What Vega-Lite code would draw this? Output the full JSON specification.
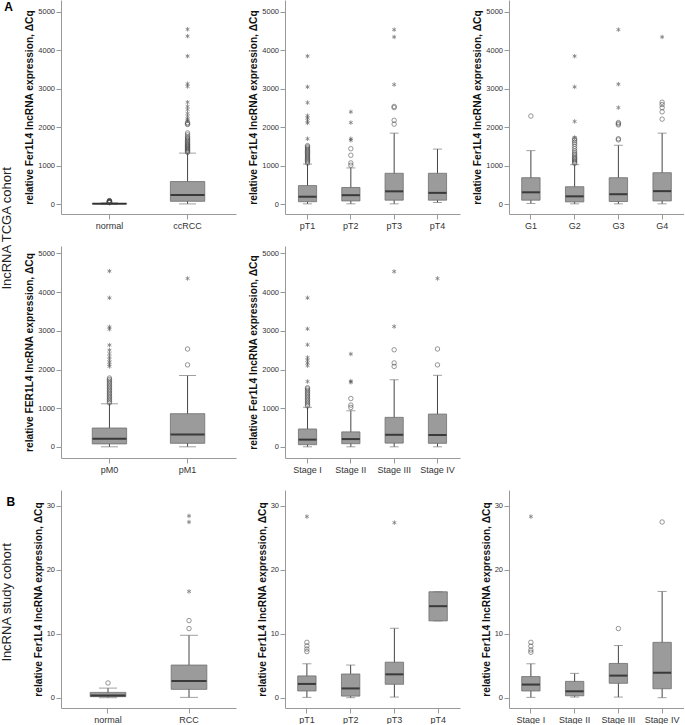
{
"$schema": "https://vega.github.io/schema/vega-lite/v6.json",
"padding": 0,
"background": "white",
"title": {"text": "lncRNA study cohort", "orient": "left", "anchor": "start", "offset": -13, "dx": 63, "fontSize": 13, "fontWeight": "normal", "color": "#222", "font": "Liberation Sans"},
"columns": 3,
"bounds": "flush",
"align": "each",
"spacing": {"row": 32, "column": 49},
"datasets": {
"boxes": [
{"p":"p1","g":"normal","lo":0,"q1":2,"med":8,"q3":16,"hi":30},
{"p":"p1","g":"ccRCC","lo":3,"q1":70,"med":235,"q3":585,"hi":1325},
{"p":"p2","g":"pT1","lo":5,"q1":60,"med":190,"q3":480,"hi":1040},
{"p":"p2","g":"pT2","lo":5,"q1":80,"med":230,"q3":430,"hi":940},
{"p":"p2","g":"pT3","lo":5,"q1":100,"med":330,"q3":800,"hi":1845},
{"p":"p2","g":"pT4","lo":40,"q1":100,"med":290,"q3":800,"hi":1430},
{"p":"p3","g":"G1","lo":15,"q1":100,"med":305,"q3":685,"hi":1390},
{"p":"p3","g":"G2","lo":5,"q1":55,"med":200,"q3":450,"hi":1025},
{"p":"p3","g":"G3","lo":5,"q1":65,"med":255,"q3":685,"hi":1530},
{"p":"p3","g":"G4","lo":5,"q1":80,"med":335,"q3":815,"hi":1845},
{"p":"p4","g":"pM0","lo":5,"q1":80,"med":215,"q3":490,"hi":1115},
{"p":"p4","g":"pM1","lo":5,"q1":95,"med":320,"q3":860,"hi":1845},
{"p":"p5","g":"Stage I","lo":5,"q1":60,"med":190,"q3":465,"hi":1025},
{"p":"p5","g":"Stage II","lo":5,"q1":85,"med":205,"q3":390,"hi":935},
{"p":"p5","g":"Stage III","lo":5,"q1":100,"med":315,"q3":765,"hi":1735},
{"p":"p5","g":"Stage IV","lo":5,"q1":95,"med":310,"q3":850,"hi":1850},
{"p":"p6","g":"normal","lo":0,"q1":0.16,"med":0.36,"q3":0.83,"hi":1.5},
{"p":"p6","g":"RCC","lo":0.05,"q1":1.3,"med":2.6,"q3":5.1,"hi":9.75},
{"p":"p7","g":"pT1","lo":0.05,"q1":1.05,"med":2.15,"q3":3.4,"hi":5.3},
{"p":"p7","g":"pT2","lo":0,"q1":0.25,"med":1.45,"q3":3.7,"hi":5.1},
{"p":"p7","g":"pT3","lo":0.1,"q1":2.1,"med":3.65,"q3":5.55,"hi":10.85},
{"p":"p7","g":"pT4","lo":12.0,"q1":12.0,"med":14.3,"q3":16.55,"hi":16.55},
{"p":"p8","g":"Stage I","lo":0.05,"q1":1.05,"med":2.05,"q3":3.3,"hi":5.3},
{"p":"p8","g":"Stage II","lo":0.1,"q1":0.3,"med":1.0,"q3":2.55,"hi":3.8},
{"p":"p8","g":"Stage III","lo":0.1,"q1":2.25,"med":3.45,"q3":5.35,"hi":8.15},
{"p":"p8","g":"Stage IV","lo":0,"q1":1.4,"med":3.9,"q3":8.65,"hi":16.6}
],
"outliers": [
{"p":"p1","g":"normal","v":35,"k":"o"},{"p":"p1","g":"normal","v":40,"k":"o"},{"p":"p1","g":"normal","v":45,"k":"o"},{"p":"p1","g":"normal","v":50,"k":"o"},{"p":"p1","g":"normal","v":55,"k":"o"},{"p":"p1","g":"normal","v":60,"k":"o"},{"p":"p1","g":"normal","v":65,"k":"o"},{"p":"p1","g":"normal","v":70,"k":"o"},{"p":"p1","g":"normal","v":75,"k":"o"},{"p":"p1","g":"normal","v":80,"k":"o"},{"p":"p1","g":"normal","v":90,"k":"o"},
{"p":"p1","g":"ccRCC","v":1345,"k":"o"},{"p":"p1","g":"ccRCC","v":1370,"k":"o"},{"p":"p1","g":"ccRCC","v":1395,"k":"o"},{"p":"p1","g":"ccRCC","v":1420,"k":"o"},{"p":"p1","g":"ccRCC","v":1445,"k":"o"},{"p":"p1","g":"ccRCC","v":1470,"k":"o"},{"p":"p1","g":"ccRCC","v":1495,"k":"o"},{"p":"p1","g":"ccRCC","v":1520,"k":"o"},{"p":"p1","g":"ccRCC","v":1545,"k":"o"},{"p":"p1","g":"ccRCC","v":1570,"k":"o"},{"p":"p1","g":"ccRCC","v":1600,"k":"o"},{"p":"p1","g":"ccRCC","v":1630,"k":"o"},{"p":"p1","g":"ccRCC","v":1660,"k":"o"},{"p":"p1","g":"ccRCC","v":1690,"k":"o"},{"p":"p1","g":"ccRCC","v":1720,"k":"o"},{"p":"p1","g":"ccRCC","v":1750,"k":"o"},{"p":"p1","g":"ccRCC","v":1800,"k":"o"},{"p":"p1","g":"ccRCC","v":1850,"k":"o"},{"p":"p1","g":"ccRCC","v":2070,"k":"o"},{"p":"p1","g":"ccRCC","v":2090,"k":"o"},{"p":"p1","g":"ccRCC","v":2120,"k":"o"},
{"p":"p1","g":"ccRCC","v":2170,"k":"*"},{"p":"p1","g":"ccRCC","v":2210,"k":"*"},{"p":"p1","g":"ccRCC","v":2280,"k":"*"},{"p":"p1","g":"ccRCC","v":2360,"k":"*"},{"p":"p1","g":"ccRCC","v":2460,"k":"*"},{"p":"p1","g":"ccRCC","v":2540,"k":"*"},{"p":"p1","g":"ccRCC","v":2650,"k":"*"},{"p":"p1","g":"ccRCC","v":3060,"k":"*"},{"p":"p1","g":"ccRCC","v":3130,"k":"*"},{"p":"p1","g":"ccRCC","v":3850,"k":"*"},{"p":"p1","g":"ccRCC","v":4370,"k":"*"},{"p":"p1","g":"ccRCC","v":4550,"k":"*"},
{"p":"p2","g":"pT1","v":1065,"k":"o"},{"p":"p2","g":"pT1","v":1100,"k":"o"},{"p":"p2","g":"pT1","v":1130,"k":"o"},{"p":"p2","g":"pT1","v":1160,"k":"o"},{"p":"p2","g":"pT1","v":1190,"k":"o"},{"p":"p2","g":"pT1","v":1220,"k":"o"},{"p":"p2","g":"pT1","v":1250,"k":"o"},{"p":"p2","g":"pT1","v":1280,"k":"o"},{"p":"p2","g":"pT1","v":1310,"k":"o"},{"p":"p2","g":"pT1","v":1340,"k":"o"},{"p":"p2","g":"pT1","v":1370,"k":"o"},{"p":"p2","g":"pT1","v":1400,"k":"o"},{"p":"p2","g":"pT1","v":1430,"k":"o"},{"p":"p2","g":"pT1","v":1460,"k":"o"},{"p":"p2","g":"pT1","v":1490,"k":"o"},{"p":"p2","g":"pT1","v":1520,"k":"o"},
{"p":"p2","g":"pT1","v":1700,"k":"*"},{"p":"p2","g":"pT1","v":2110,"k":"*"},{"p":"p2","g":"pT1","v":2170,"k":"*"},{"p":"p2","g":"pT1","v":2240,"k":"*"},{"p":"p2","g":"pT1","v":2300,"k":"*"},{"p":"p2","g":"pT1","v":2640,"k":"*"},{"p":"p2","g":"pT1","v":3050,"k":"*"},{"p":"p2","g":"pT1","v":3850,"k":"*"},
{"p":"p2","g":"pT2","v":1010,"k":"o"},{"p":"p2","g":"pT2","v":1070,"k":"o"},{"p":"p2","g":"pT2","v":1270,"k":"o"},{"p":"p2","g":"pT2","v":1440,"k":"o"},{"p":"p2","g":"pT2","v":1660,"k":"*"},{"p":"p2","g":"pT2","v":1700,"k":"*"},{"p":"p2","g":"pT2","v":2120,"k":"*"},{"p":"p2","g":"pT2","v":2400,"k":"*"},
{"p":"p2","g":"pT3","v":2080,"k":"o"},{"p":"p2","g":"pT3","v":2180,"k":"o"},{"p":"p2","g":"pT3","v":2510,"k":"o"},{"p":"p2","g":"pT3","v":2540,"k":"o"},{"p":"p2","g":"pT3","v":3110,"k":"*"},{"p":"p2","g":"pT3","v":4350,"k":"*"},{"p":"p2","g":"pT3","v":4540,"k":"*"},
{"p":"p3","g":"G1","v":2290,"k":"o"},
{"p":"p3","g":"G2","v":1060,"k":"o"},{"p":"p3","g":"G2","v":1090,"k":"o"},{"p":"p3","g":"G2","v":1120,"k":"o"},{"p":"p3","g":"G2","v":1150,"k":"o"},{"p":"p3","g":"G2","v":1180,"k":"o"},{"p":"p3","g":"G2","v":1210,"k":"o"},{"p":"p3","g":"G2","v":1250,"k":"o"},{"p":"p3","g":"G2","v":1290,"k":"o"},{"p":"p3","g":"G2","v":1330,"k":"o"},{"p":"p3","g":"G2","v":1380,"k":"o"},{"p":"p3","g":"G2","v":1440,"k":"o"},{"p":"p3","g":"G2","v":1500,"k":"o"},{"p":"p3","g":"G2","v":1560,"k":"o"},{"p":"p3","g":"G2","v":1610,"k":"o"},{"p":"p3","g":"G2","v":1660,"k":"o"},{"p":"p3","g":"G2","v":1700,"k":"o"},
{"p":"p3","g":"G2","v":1730,"k":"*"},{"p":"p3","g":"G2","v":2150,"k":"*"},{"p":"p3","g":"G2","v":3050,"k":"*"},{"p":"p3","g":"G2","v":3850,"k":"*"},
{"p":"p3","g":"G3","v":1670,"k":"o"},{"p":"p3","g":"G3","v":1700,"k":"o"},{"p":"p3","g":"G3","v":2060,"k":"o"},{"p":"p3","g":"G3","v":2090,"k":"o"},{"p":"p3","g":"G3","v":2120,"k":"o"},{"p":"p3","g":"G3","v":2510,"k":"*"},{"p":"p3","g":"G3","v":3120,"k":"*"},{"p":"p3","g":"G3","v":4540,"k":"*"},
{"p":"p3","g":"G4","v":2210,"k":"o"},{"p":"p3","g":"G4","v":2400,"k":"o"},{"p":"p3","g":"G4","v":2510,"k":"o"},{"p":"p3","g":"G4","v":2590,"k":"o"},{"p":"p3","g":"G4","v":2650,"k":"o"},{"p":"p3","g":"G4","v":4350,"k":"*"},
{"p":"p4","g":"pM0","v":1140,"k":"o"},{"p":"p4","g":"pM0","v":1180,"k":"o"},{"p":"p4","g":"pM0","v":1220,"k":"o"},{"p":"p4","g":"pM0","v":1260,"k":"o"},{"p":"p4","g":"pM0","v":1300,"k":"o"},{"p":"p4","g":"pM0","v":1340,"k":"o"},{"p":"p4","g":"pM0","v":1380,"k":"o"},{"p":"p4","g":"pM0","v":1420,"k":"o"},{"p":"p4","g":"pM0","v":1460,"k":"o"},{"p":"p4","g":"pM0","v":1500,"k":"o"},{"p":"p4","g":"pM0","v":1540,"k":"o"},{"p":"p4","g":"pM0","v":1580,"k":"o"},{"p":"p4","g":"pM0","v":1620,"k":"o"},{"p":"p4","g":"pM0","v":1660,"k":"o"},{"p":"p4","g":"pM0","v":1700,"k":"o"},{"p":"p4","g":"pM0","v":1740,"k":"o"},{"p":"p4","g":"pM0","v":1780,"k":"o"},
{"p":"p4","g":"pM0","v":2080,"k":"*"},{"p":"p4","g":"pM0","v":2130,"k":"*"},{"p":"p4","g":"pM0","v":2190,"k":"*"},{"p":"p4","g":"pM0","v":2260,"k":"*"},{"p":"p4","g":"pM0","v":2330,"k":"*"},{"p":"p4","g":"pM0","v":2410,"k":"*"},{"p":"p4","g":"pM0","v":2500,"k":"*"},{"p":"p4","g":"pM0","v":2630,"k":"*"},{"p":"p4","g":"pM0","v":3040,"k":"*"},{"p":"p4","g":"pM0","v":3100,"k":"*"},{"p":"p4","g":"pM0","v":3850,"k":"*"},{"p":"p4","g":"pM0","v":4540,"k":"*"},
{"p":"p4","g":"pM1","v":2120,"k":"o"},{"p":"p4","g":"pM1","v":2530,"k":"o"},{"p":"p4","g":"pM1","v":4350,"k":"*"},
{"p":"p5","g":"Stage I","v":1060,"k":"o"},{"p":"p5","g":"Stage I","v":1100,"k":"o"},{"p":"p5","g":"Stage I","v":1140,"k":"o"},{"p":"p5","g":"Stage I","v":1180,"k":"o"},{"p":"p5","g":"Stage I","v":1220,"k":"o"},{"p":"p5","g":"Stage I","v":1260,"k":"o"},{"p":"p5","g":"Stage I","v":1300,"k":"o"},{"p":"p5","g":"Stage I","v":1340,"k":"o"},{"p":"p5","g":"Stage I","v":1380,"k":"o"},{"p":"p5","g":"Stage I","v":1420,"k":"o"},{"p":"p5","g":"Stage I","v":1460,"k":"o"},{"p":"p5","g":"Stage I","v":1500,"k":"o"},{"p":"p5","g":"Stage I","v":1530,"k":"o"},
{"p":"p5","g":"Stage I","v":1690,"k":"*"},{"p":"p5","g":"Stage I","v":2100,"k":"*"},{"p":"p5","g":"Stage I","v":2170,"k":"*"},{"p":"p5","g":"Stage I","v":2240,"k":"*"},{"p":"p5","g":"Stage I","v":2310,"k":"*"},{"p":"p5","g":"Stage I","v":2640,"k":"*"},{"p":"p5","g":"Stage I","v":3050,"k":"*"},{"p":"p5","g":"Stage I","v":3850,"k":"*"},
{"p":"p5","g":"Stage II","v":1020,"k":"o"},{"p":"p5","g":"Stage II","v":1080,"k":"o"},{"p":"p5","g":"Stage II","v":1250,"k":"o"},{"p":"p5","g":"Stage II","v":1670,"k":"*"},{"p":"p5","g":"Stage II","v":1700,"k":"*"},{"p":"p5","g":"Stage II","v":2400,"k":"*"},
{"p":"p5","g":"Stage III","v":2080,"k":"o"},{"p":"p5","g":"Stage III","v":2170,"k":"o"},{"p":"p5","g":"Stage III","v":2510,"k":"o"},{"p":"p5","g":"Stage III","v":3110,"k":"*"},{"p":"p5","g":"Stage III","v":4530,"k":"*"},
{"p":"p5","g":"Stage IV","v":2120,"k":"o"},{"p":"p5","g":"Stage IV","v":2530,"k":"o"},{"p":"p5","g":"Stage IV","v":4350,"k":"*"},
{"p":"p6","g":"normal","v":2.3,"k":"o"},
{"p":"p6","g":"RCC","v":10.8,"k":"o"},{"p":"p6","g":"RCC","v":12.05,"k":"o"},{"p":"p6","g":"RCC","v":16.6,"k":"*"},{"p":"p6","g":"RCC","v":27.45,"k":"*"},{"p":"p6","g":"RCC","v":28.4,"k":"*"},
{"p":"p7","g":"pT1","v":7.2,"k":"o"},{"p":"p7","g":"pT1","v":7.6,"k":"o"},{"p":"p7","g":"pT1","v":8.1,"k":"o"},{"p":"p7","g":"pT1","v":8.65,"k":"o"},{"p":"p7","g":"pT1","v":28.3,"k":"*"},
{"p":"p7","g":"pT3","v":27.35,"k":"*"},
{"p":"p8","g":"Stage I","v":7.1,"k":"o"},{"p":"p8","g":"Stage I","v":7.45,"k":"o"},{"p":"p8","g":"Stage I","v":8.05,"k":"o"},{"p":"p8","g":"Stage I","v":8.65,"k":"o"},{"p":"p8","g":"Stage I","v":28.3,"k":"*"},
{"p":"p8","g":"Stage III","v":10.8,"k":"o"},
{"p":"p8","g":"Stage IV","v":27.45,"k":"o"}
]
},
"concat": [
{
"width": 175, "height": 214,
"title": {"text": "A", "orient": "left", "anchor": "end", "angle": 0, "align": "left", "baseline": "top", "offset": 12, "dy": 2, "fontSize": 12, "fontWeight": "bold", "color": "#000"},
"encoding": {"x": {"field": "g", "type": "nominal", "sort": ["normal", "ccRCC"], "scale": {"type": "band", "paddingInner": 0.56, "paddingOuter": 0.4}, "axis": {"title": null}}},
"layer": [
{"data": {"name": "boxes"}, "transform": [{"filter": "datum.p === 'p1'"}], "mark": {"type": "rule", "color": "#444"}, "encoding": {"y": {"field": "lo", "type": "quantitative", "scale": {"domain": [-260, 5312], "nice": false, "zero": false}, "axis": {"title": "relative Fer1L4 lncRNA expression, ΔCq", "values": [0, 1000, 2000, 3000, 4000, 5000], "format": "d"}}, "y2": {"field": "hi"}}},
{"data": {"name": "boxes"}, "transform": [{"filter": "datum.p === 'p1'"}], "mark": {"type": "bar", "fill": "#9b9b9b", "stroke": "#6e6e6e", "strokeWidth": 0.8}, "encoding": {"y": {"field": "q1", "type": "quantitative", "scale": {"domain": [-260, 5312], "nice": false, "zero": false}}, "y2": {"field": "q3"}}},
{"data": {"name": "boxes"}, "transform": [{"filter": "datum.p === 'p1'"}], "mark": {"type": "tick", "color": "#777", "thickness": 1, "size": 17}, "encoding": {"y": {"field": "lo", "type": "quantitative", "scale": {"domain": [-260, 5312], "nice": false, "zero": false}}}},
{"data": {"name": "boxes"}, "transform": [{"filter": "datum.p === 'p1'"}], "mark": {"type": "tick", "color": "#777", "thickness": 1, "size": 17}, "encoding": {"y": {"field": "hi", "type": "quantitative", "scale": {"domain": [-260, 5312], "nice": false, "zero": false}}}},
{"data": {"name": "boxes"}, "transform": [{"filter": "datum.p === 'p1'"}], "mark": {"type": "tick", "color": "#111", "thickness": 2, "size": 34}, "encoding": {"y": {"field": "med", "type": "quantitative", "scale": {"domain": [-260, 5312], "nice": false, "zero": false}}}},
{"data": {"name": "outliers"}, "transform": [{"filter": "datum.p === 'p1'"}], "mark": {"type": "point", "filled": false, "size": 20, "strokeWidth": 0.8, "color": "#444"}, "encoding": {"y": {"field": "v", "type": "quantitative", "scale": {"domain": [-260, 5312], "nice": false, "zero": false}}, "shape": {"field": "k", "type": "nominal", "scale": {"domain": ["o", "*"], "range": ["circle", "M0,-1L0,1M-0.87,-0.5L0.87,0.5M-0.87,0.5L0.87,-0.5"]}, "legend": null}}}
]
},
{
"width": 175, "height": 214,
"encoding": {"x": {"field": "g", "type": "nominal", "sort": ["pT1", "pT2", "pT3", "pT4"], "scale": {"type": "band", "paddingInner": 0.58, "paddingOuter": 0.31}, "axis": {"title": null}}},
"layer": [
{"data": {"name": "boxes"}, "transform": [{"filter": "datum.p === 'p2'"}], "mark": {"type": "rule", "color": "#444"}, "encoding": {"y": {"field": "lo", "type": "quantitative", "scale": {"domain": [-260, 5312], "nice": false, "zero": false}, "axis": {"title": "relative Fer1L4 lncRNA expression, ΔCq", "values": [0, 1000, 2000, 3000, 4000, 5000], "format": "d"}}, "y2": {"field": "hi"}}},
{"data": {"name": "boxes"}, "transform": [{"filter": "datum.p === 'p2'"}], "mark": {"type": "bar", "fill": "#9b9b9b", "stroke": "#6e6e6e", "strokeWidth": 0.8}, "encoding": {"y": {"field": "q1", "type": "quantitative", "scale": {"domain": [-260, 5312], "nice": false, "zero": false}}, "y2": {"field": "q3"}}},
{"data": {"name": "boxes"}, "transform": [{"filter": "datum.p === 'p2'"}], "mark": {"type": "tick", "color": "#777", "thickness": 1, "size": 9}, "encoding": {"y": {"field": "lo", "type": "quantitative", "scale": {"domain": [-260, 5312], "nice": false, "zero": false}}}},
{"data": {"name": "boxes"}, "transform": [{"filter": "datum.p === 'p2'"}], "mark": {"type": "tick", "color": "#777", "thickness": 1, "size": 9}, "encoding": {"y": {"field": "hi", "type": "quantitative", "scale": {"domain": [-260, 5312], "nice": false, "zero": false}}}},
{"data": {"name": "boxes"}, "transform": [{"filter": "datum.p === 'p2'"}], "mark": {"type": "tick", "color": "#111", "thickness": 2, "size": 18}, "encoding": {"y": {"field": "med", "type": "quantitative", "scale": {"domain": [-260, 5312], "nice": false, "zero": false}}}},
{"data": {"name": "outliers"}, "transform": [{"filter": "datum.p === 'p2'"}], "mark": {"type": "point", "filled": false, "size": 20, "strokeWidth": 0.8, "color": "#444"}, "encoding": {"y": {"field": "v", "type": "quantitative", "scale": {"domain": [-260, 5312], "nice": false, "zero": false}}, "shape": {"field": "k", "type": "nominal", "scale": {"domain": ["o", "*"], "range": ["circle", "M0,-1L0,1M-0.87,-0.5L0.87,0.5M-0.87,0.5L0.87,-0.5"]}, "legend": null}}}
]
},
{
"width": 175, "height": 214,
"encoding": {"x": {"field": "g", "type": "nominal", "sort": ["G1", "G2", "G3", "G4"], "scale": {"type": "band", "paddingInner": 0.58, "paddingOuter": 0.29}, "axis": {"title": null}}},
"layer": [
{"data": {"name": "boxes"}, "transform": [{"filter": "datum.p === 'p3'"}], "mark": {"type": "rule", "color": "#444"}, "encoding": {"y": {"field": "lo", "type": "quantitative", "scale": {"domain": [-260, 5312], "nice": false, "zero": false}, "axis": {"title": "relative Fer1L4 lncRNA expression, ΔCq", "values": [0, 1000, 2000, 3000, 4000, 5000], "format": "d"}}, "y2": {"field": "hi"}}},
{"data": {"name": "boxes"}, "transform": [{"filter": "datum.p === 'p3'"}], "mark": {"type": "bar", "fill": "#9b9b9b", "stroke": "#6e6e6e", "strokeWidth": 0.8}, "encoding": {"y": {"field": "q1", "type": "quantitative", "scale": {"domain": [-260, 5312], "nice": false, "zero": false}}, "y2": {"field": "q3"}}},
{"data": {"name": "boxes"}, "transform": [{"filter": "datum.p === 'p3'"}], "mark": {"type": "tick", "color": "#777", "thickness": 1, "size": 9}, "encoding": {"y": {"field": "lo", "type": "quantitative", "scale": {"domain": [-260, 5312], "nice": false, "zero": false}}}},
{"data": {"name": "boxes"}, "transform": [{"filter": "datum.p === 'p3'"}], "mark": {"type": "tick", "color": "#777", "thickness": 1, "size": 9}, "encoding": {"y": {"field": "hi", "type": "quantitative", "scale": {"domain": [-260, 5312], "nice": false, "zero": false}}}},
{"data": {"name": "boxes"}, "transform": [{"filter": "datum.p === 'p3'"}], "mark": {"type": "tick", "color": "#111", "thickness": 2, "size": 18}, "encoding": {"y": {"field": "med", "type": "quantitative", "scale": {"domain": [-260, 5312], "nice": false, "zero": false}}}},
{"data": {"name": "outliers"}, "transform": [{"filter": "datum.p === 'p3'"}], "mark": {"type": "point", "filled": false, "size": 20, "strokeWidth": 0.8, "color": "#444"}, "encoding": {"y": {"field": "v", "type": "quantitative", "scale": {"domain": [-260, 5312], "nice": false, "zero": false}}, "shape": {"field": "k", "type": "nominal", "scale": {"domain": ["o", "*"], "range": ["circle", "M0,-1L0,1M-0.87,-0.5L0.87,0.5M-0.87,0.5L0.87,-0.5"]}, "legend": null}}}
]
},
{
"width": 175, "height": 212,
"title": {"text": "lncRNA TCGA cohort", "orient": "left", "anchor": "middle", "frame": "group", "offset": 11, "dx": 124, "fontSize": 13, "fontWeight": "normal", "color": "#222"},
"encoding": {"x": {"field": "g", "type": "nominal", "sort": ["pM0", "pM1"], "scale": {"type": "band", "paddingInner": 0.56, "paddingOuter": 0.4}, "axis": {"title": null}}},
"layer": [
{"data": {"name": "boxes"}, "transform": [{"filter": "datum.p === 'p4'"}], "mark": {"type": "rule", "color": "#444"}, "encoding": {"y": {"field": "lo", "type": "quantitative", "scale": {"domain": [-284, 5188], "nice": false, "zero": false}, "axis": {"title": "relative FER1L4 lncRNA expression, ΔCq", "values": [0, 1000, 2000, 3000, 4000, 5000], "format": "d"}}, "y2": {"field": "hi"}}},
{"data": {"name": "boxes"}, "transform": [{"filter": "datum.p === 'p4'"}], "mark": {"type": "bar", "fill": "#9b9b9b", "stroke": "#6e6e6e", "strokeWidth": 0.8}, "encoding": {"y": {"field": "q1", "type": "quantitative", "scale": {"domain": [-284, 5188], "nice": false, "zero": false}}, "y2": {"field": "q3"}}},
{"data": {"name": "boxes"}, "transform": [{"filter": "datum.p === 'p4'"}], "mark": {"type": "tick", "color": "#777", "thickness": 1, "size": 17}, "encoding": {"y": {"field": "lo", "type": "quantitative", "scale": {"domain": [-284, 5188], "nice": false, "zero": false}}}},
{"data": {"name": "boxes"}, "transform": [{"filter": "datum.p === 'p4'"}], "mark": {"type": "tick", "color": "#777", "thickness": 1, "size": 17}, "encoding": {"y": {"field": "hi", "type": "quantitative", "scale": {"domain": [-284, 5188], "nice": false, "zero": false}}}},
{"data": {"name": "boxes"}, "transform": [{"filter": "datum.p === 'p4'"}], "mark": {"type": "tick", "color": "#111", "thickness": 2, "size": 34}, "encoding": {"y": {"field": "med", "type": "quantitative", "scale": {"domain": [-284, 5188], "nice": false, "zero": false}}}},
{"data": {"name": "outliers"}, "transform": [{"filter": "datum.p === 'p4'"}], "mark": {"type": "point", "filled": false, "size": 20, "strokeWidth": 0.8, "color": "#444"}, "encoding": {"y": {"field": "v", "type": "quantitative", "scale": {"domain": [-284, 5188], "nice": false, "zero": false}}, "shape": {"field": "k", "type": "nominal", "scale": {"domain": ["o", "*"], "range": ["circle", "M0,-1L0,1M-0.87,-0.5L0.87,0.5M-0.87,0.5L0.87,-0.5"]}, "legend": null}}}
]
},
{
"width": 175, "height": 212,
"encoding": {"x": {"field": "g", "type": "nominal", "sort": ["Stage I", "Stage II", "Stage III", "Stage IV"], "scale": {"type": "band", "paddingInner": 0.58, "paddingOuter": 0.31}, "axis": {"title": null}}},
"layer": [
{"data": {"name": "boxes"}, "transform": [{"filter": "datum.p === 'p5'"}], "mark": {"type": "rule", "color": "#444"}, "encoding": {"y": {"field": "lo", "type": "quantitative", "scale": {"domain": [-284, 5188], "nice": false, "zero": false}, "axis": {"title": "relative Fer1L4 lncRNA expression, ΔCq", "values": [0, 1000, 2000, 3000, 4000, 5000], "format": "d"}}, "y2": {"field": "hi"}}},
{"data": {"name": "boxes"}, "transform": [{"filter": "datum.p === 'p5'"}], "mark": {"type": "bar", "fill": "#9b9b9b", "stroke": "#6e6e6e", "strokeWidth": 0.8}, "encoding": {"y": {"field": "q1", "type": "quantitative", "scale": {"domain": [-284, 5188], "nice": false, "zero": false}}, "y2": {"field": "q3"}}},
{"data": {"name": "boxes"}, "transform": [{"filter": "datum.p === 'p5'"}], "mark": {"type": "tick", "color": "#777", "thickness": 1, "size": 9}, "encoding": {"y": {"field": "lo", "type": "quantitative", "scale": {"domain": [-284, 5188], "nice": false, "zero": false}}}},
{"data": {"name": "boxes"}, "transform": [{"filter": "datum.p === 'p5'"}], "mark": {"type": "tick", "color": "#777", "thickness": 1, "size": 9}, "encoding": {"y": {"field": "hi", "type": "quantitative", "scale": {"domain": [-284, 5188], "nice": false, "zero": false}}}},
{"data": {"name": "boxes"}, "transform": [{"filter": "datum.p === 'p5'"}], "mark": {"type": "tick", "color": "#111", "thickness": 2, "size": 18}, "encoding": {"y": {"field": "med", "type": "quantitative", "scale": {"domain": [-284, 5188], "nice": false, "zero": false}}}},
{"data": {"name": "outliers"}, "transform": [{"filter": "datum.p === 'p5'"}], "mark": {"type": "point", "filled": false, "size": 20, "strokeWidth": 0.8, "color": "#444"}, "encoding": {"y": {"field": "v", "type": "quantitative", "scale": {"domain": [-284, 5188], "nice": false, "zero": false}}, "shape": {"field": "k", "type": "nominal", "scale": {"domain": ["o", "*"], "range": ["circle", "M0,-1L0,1M-0.87,-0.5L0.87,0.5M-0.87,0.5L0.87,-0.5"]}, "legend": null}}}
]
},
{
"width": 175, "height": 212,
"data": {"values": [{"a": 1}]},
"mark": {"type": "point", "opacity": 0},
"encoding": {}
},
{
"width": 175, "height": 218,
"title": {"text": "B", "orient": "left", "anchor": "end", "angle": 0, "align": "left", "baseline": "top", "offset": 18, "dy": 7, "fontSize": 12, "fontWeight": "bold", "color": "#000"},
"encoding": {"x": {"field": "g", "type": "nominal", "sort": ["normal", "RCC"], "scale": {"type": "band", "paddingInner": 0.56, "paddingOuter": 0.36}, "axis": {"title": null}}},
"layer": [
{"data": {"name": "boxes"}, "transform": [{"filter": "datum.p === 'p6'"}], "mark": {"type": "rule", "color": "#444"}, "encoding": {"y": {"field": "lo", "type": "quantitative", "scale": {"domain": [-1.61, 32.45], "nice": false, "zero": false}, "axis": {"title": "relative Fer1L4 lncRNA expression, ΔCq", "values": [0, 5, 10, 15, 20, 25, 30], "format": "d"}}, "y2": {"field": "hi"}}},
{"data": {"name": "boxes"}, "transform": [{"filter": "datum.p === 'p6'"}], "mark": {"type": "bar", "fill": "#9b9b9b", "stroke": "#6e6e6e", "strokeWidth": 0.8}, "encoding": {"y": {"field": "q1", "type": "quantitative", "scale": {"domain": [-1.61, 32.45], "nice": false, "zero": false}}, "y2": {"field": "q3"}}},
{"data": {"name": "boxes"}, "transform": [{"filter": "datum.p === 'p6'"}], "mark": {"type": "tick", "color": "#777", "thickness": 1, "size": 18}, "encoding": {"y": {"field": "lo", "type": "quantitative", "scale": {"domain": [-1.61, 32.45], "nice": false, "zero": false}}}},
{"data": {"name": "boxes"}, "transform": [{"filter": "datum.p === 'p6'"}], "mark": {"type": "tick", "color": "#777", "thickness": 1, "size": 18}, "encoding": {"y": {"field": "hi", "type": "quantitative", "scale": {"domain": [-1.61, 32.45], "nice": false, "zero": false}}}},
{"data": {"name": "boxes"}, "transform": [{"filter": "datum.p === 'p6'"}], "mark": {"type": "tick", "color": "#111", "thickness": 2, "size": 35}, "encoding": {"y": {"field": "med", "type": "quantitative", "scale": {"domain": [-1.61, 32.45], "nice": false, "zero": false}}}},
{"data": {"name": "outliers"}, "transform": [{"filter": "datum.p === 'p6'"}], "mark": {"type": "point", "filled": false, "size": 20, "strokeWidth": 0.8, "color": "#444"}, "encoding": {"y": {"field": "v", "type": "quantitative", "scale": {"domain": [-1.61, 32.45], "nice": false, "zero": false}}, "shape": {"field": "k", "type": "nominal", "scale": {"domain": ["o", "*"], "range": ["circle", "M0,-1L0,1M-0.87,-0.5L0.87,0.5M-0.87,0.5L0.87,-0.5"]}, "legend": null}}}
]
},
{
"width": 175, "height": 218,
"encoding": {"x": {"field": "g", "type": "nominal", "sort": ["pT1", "pT2", "pT3", "pT4"], "scale": {"type": "band", "paddingInner": 0.58, "paddingOuter": 0.29}, "axis": {"title": null}}},
"layer": [
{"data": {"name": "boxes"}, "transform": [{"filter": "datum.p === 'p7'"}], "mark": {"type": "rule", "color": "#444"}, "encoding": {"y": {"field": "lo", "type": "quantitative", "scale": {"domain": [-1.61, 32.45], "nice": false, "zero": false}, "axis": {"title": "relative Fer1L4 lncRNA expression, ΔCq", "values": [0, 5, 10, 15, 20, 25, 30], "format": "d"}}, "y2": {"field": "hi"}}},
{"data": {"name": "boxes"}, "transform": [{"filter": "datum.p === 'p7'"}], "mark": {"type": "bar", "fill": "#9b9b9b", "stroke": "#6e6e6e", "strokeWidth": 0.8}, "encoding": {"y": {"field": "q1", "type": "quantitative", "scale": {"domain": [-1.61, 32.45], "nice": false, "zero": false}}, "y2": {"field": "q3"}}},
{"data": {"name": "boxes"}, "transform": [{"filter": "datum.p === 'p7'"}], "mark": {"type": "tick", "color": "#777", "thickness": 1, "size": 9}, "encoding": {"y": {"field": "lo", "type": "quantitative", "scale": {"domain": [-1.61, 32.45], "nice": false, "zero": false}}}},
{"data": {"name": "boxes"}, "transform": [{"filter": "datum.p === 'p7'"}], "mark": {"type": "tick", "color": "#777", "thickness": 1, "size": 9}, "encoding": {"y": {"field": "hi", "type": "quantitative", "scale": {"domain": [-1.61, 32.45], "nice": false, "zero": false}}}},
{"data": {"name": "boxes"}, "transform": [{"filter": "datum.p === 'p7'"}], "mark": {"type": "tick", "color": "#111", "thickness": 2, "size": 18}, "encoding": {"y": {"field": "med", "type": "quantitative", "scale": {"domain": [-1.61, 32.45], "nice": false, "zero": false}}}},
{"data": {"name": "outliers"}, "transform": [{"filter": "datum.p === 'p7'"}], "mark": {"type": "point", "filled": false, "size": 20, "strokeWidth": 0.8, "color": "#444"}, "encoding": {"y": {"field": "v", "type": "quantitative", "scale": {"domain": [-1.61, 32.45], "nice": false, "zero": false}}, "shape": {"field": "k", "type": "nominal", "scale": {"domain": ["o", "*"], "range": ["circle", "M0,-1L0,1M-0.87,-0.5L0.87,0.5M-0.87,0.5L0.87,-0.5"]}, "legend": null}}}
]
},
{
"width": 175, "height": 218,
"encoding": {"x": {"field": "g", "type": "nominal", "sort": ["Stage I", "Stage II", "Stage III", "Stage IV"], "scale": {"type": "band", "paddingInner": 0.58, "paddingOuter": 0.29}, "axis": {"title": null}}},
"layer": [
{"data": {"name": "boxes"}, "transform": [{"filter": "datum.p === 'p8'"}], "mark": {"type": "rule", "color": "#444"}, "encoding": {"y": {"field": "lo", "type": "quantitative", "scale": {"domain": [-1.61, 32.45], "nice": false, "zero": false}, "axis": {"title": "relative Fer1L4 lncRNA expression, ΔCq", "values": [0, 5, 10, 15, 20, 25, 30], "format": "d"}}, "y2": {"field": "hi"}}},
{"data": {"name": "boxes"}, "transform": [{"filter": "datum.p === 'p8'"}], "mark": {"type": "bar", "fill": "#9b9b9b", "stroke": "#6e6e6e", "strokeWidth": 0.8}, "encoding": {"y": {"field": "q1", "type": "quantitative", "scale": {"domain": [-1.61, 32.45], "nice": false, "zero": false}}, "y2": {"field": "q3"}}},
{"data": {"name": "boxes"}, "transform": [{"filter": "datum.p === 'p8'"}], "mark": {"type": "tick", "color": "#777", "thickness": 1, "size": 9}, "encoding": {"y": {"field": "lo", "type": "quantitative", "scale": {"domain": [-1.61, 32.45], "nice": false, "zero": false}}}},
{"data": {"name": "boxes"}, "transform": [{"filter": "datum.p === 'p8'"}], "mark": {"type": "tick", "color": "#777", "thickness": 1, "size": 9}, "encoding": {"y": {"field": "hi", "type": "quantitative", "scale": {"domain": [-1.61, 32.45], "nice": false, "zero": false}}}},
{"data": {"name": "boxes"}, "transform": [{"filter": "datum.p === 'p8'"}], "mark": {"type": "tick", "color": "#111", "thickness": 2, "size": 18}, "encoding": {"y": {"field": "med", "type": "quantitative", "scale": {"domain": [-1.61, 32.45], "nice": false, "zero": false}}}},
{"data": {"name": "outliers"}, "transform": [{"filter": "datum.p === 'p8'"}], "mark": {"type": "point", "filled": false, "size": 20, "strokeWidth": 0.8, "color": "#444"}, "encoding": {"y": {"field": "v", "type": "quantitative", "scale": {"domain": [-1.61, 32.45], "nice": false, "zero": false}}, "shape": {"field": "k", "type": "nominal", "scale": {"domain": ["o", "*"], "range": ["circle", "M0,-1L0,1M-0.87,-0.5L0.87,0.5M-0.87,0.5L0.87,-0.5"]}, "legend": null}}}
]
}
],
"config": {
"view": {"stroke": null},
"font": "Liberation Sans",
"axis": {"domainColor": "#999", "tickColor": "#999", "grid": false, "labelColor": "#333", "titleColor": "#111", "labelFont": "Liberation Sans", "titleFont": "Liberation Sans"},
"axisX": {"labelFontSize": 9, "tickSize": 5, "labelPadding": 2, "labelAngle": 0},
"axisY": {"labelFontSize": 7.5, "tickSize": 5, "labelPadding": 1.5, "titleFontSize": 10.2, "titleFontWeight": "bold", "titlePadding": 3},
"title": {"font": "Liberation Sans"}
}
}
